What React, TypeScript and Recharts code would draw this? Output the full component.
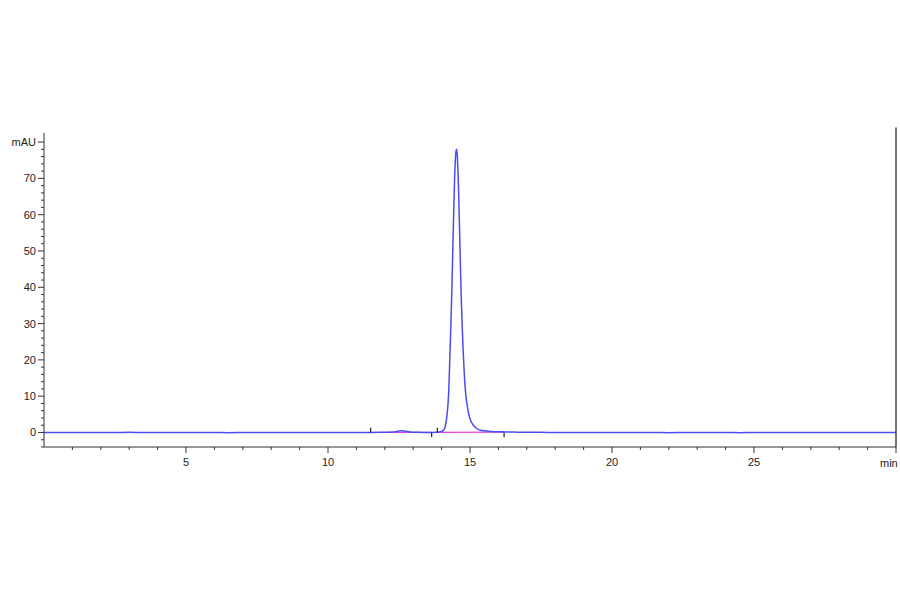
import React from "react";
import { LineChart, Line, XAxis, YAxis, ReferenceLine } from "recharts";

const times = [
  0, 0.5, 1, 1.5, 2, 2.5, 3, 3.5, 4, 4.5, 5, 5.5, 6, 6.5, 7, 7.5, 8, 8.5, 9, 9.5, 10, 10.5, 11, 11.5,
  12, 12.3, 12.5, 12.6, 12.7, 12.9, 13.2, 13.5, 13.8, 13.9, 14.0, 14.05, 14.1, 14.15, 14.2, 14.25,
  14.3, 14.35, 14.4, 14.45, 14.5, 14.53, 14.55, 14.6, 14.65, 14.7, 14.75, 14.8, 14.85, 14.9, 14.95,
  15.0, 15.1, 15.2, 15.3, 15.5, 15.75, 16.0, 16.5, 17, 17.5, 18, 18.5, 19, 19.5, 20, 20.5, 21, 21.5,
  22, 22.5, 23, 23.5, 24, 24.5, 25, 25.5, 26, 26.5, 27, 27.5, 28, 28.5, 29, 29.5, 30,
];
const signal = [
  0.0, 0.02, 0.0, -0.02, 0.02, 0.0, 0.04, 0.0, -0.02, 0.02, 0.0, -0.02, 0.02, -0.04, 0.0, 0.02, -0.02, 0.0, 0.02, -0.02, 0.0, 0.02, -0.02, 0.0,
  0.05, 0.1, 0.4, 0.5, 0.4, 0.15, 0.05, 0.0, 0.05, 0.1, 0.3, 0.5, 1.0, 2.5, 5.5, 11,
  23, 36, 52, 68, 77, 78, 76.5, 66, 50, 35, 24, 16, 10.5, 7.5, 5.3,
  3.8, 2.2, 1.3, 0.8, 0.45, 0.3, 0.2, 0.12, 0.05, 0.03, 0.0, 0.02, -0.02, 0.0, 0.02, -0.02, 0.0, 0.02,
  -0.04, 0.0, 0.02, -0.02, 0.0, -0.04, 0.02, -0.02, 0.0, 0.02, -0.02, 0.0, -0.02, 0.02, 0.0, -0.02, 0.0,
];

const baseline1 = [
  { t: 11.5, v: 0.0 },
  { t: 13.65, v: 0.05 },
];
const baseline2 = [
  { t: 13.85, v: 0.05 },
  { t: 16.2, v: 0.1 },
];
// integration event markers
const markerTimes = [11.5, 13.65, 13.85, 16.2];
const markerUp = [true, false, true, false];

const xTicks = Array.from({ length: 31 }, (_, i) => i);
const xLabels = [5, 10, 15, 20, 25];
const yTicks = Array.from({ length: 43 }, (_, i) => -4 + i * 2);
const yLabels = [0, 10, 20, 30, 40, 50, 60, 70];

const data = times.map((t, i) => ({ t, v: signal[i] }));

const AXIS = "#333333";
const FONT = "'Liberation Sans', Arial, sans-serif";

const XTick = (props: any) => {
  const { x, y, payload } = props;
  const val = payload.value;
  if (val === 0) return null;
  const major = val % 5 === 0;
  return (
    <g>
      <line x1={x} x2={x} y1={y} y2={y + (major ? 6 : 3)} stroke={AXIS} strokeWidth={1} />
      {major && xLabels.includes(val) && (
        <text x={x} y={y + 19} textAnchor="middle" fontSize={11} fill="#222" fontFamily={FONT}>
          {val}
        </text>
      )}
      {val === 30 && (
        <text x={x - 16} y={y + 20} textAnchor="start" fontSize={11} fill="#222" fontFamily={FONT}>
          min
        </text>
      )}
    </g>
  );
};

const YTick = (props: any) => {
  const { x, y, payload } = props;
  const val = payload.value;
  const major = val % 10 === 0;
  let label: string | null = null;
  if (yLabels.includes(val)) label = String(val);
  if (val === 80) label = "mAU";
  return (
    <g>
      <line x1={x} x2={x - (major ? 6 : 3)} y1={y} y2={y} stroke={AXIS} strokeWidth={1} />
      {label && (
        <text x={x - 8} y={y + 4} textAnchor="end" fontSize={11} fill="#222" fontFamily={FONT}>
          {label}
        </text>
      )}
    </g>
  );
};

export default function App() {
  return (
    <div style={{ position: "absolute", left: 0, top: 0, width: 900, height: 594, background: "#fff" }}>
      <LineChart
        width={900}
        height={594}
        data={data}
        margin={{ top: 133, right: 4, left: 0, bottom: 117 }}
      >
        <XAxis
          dataKey="t"
          type="number"
          domain={[0, 30]}
          ticks={xTicks}
          interval={0}
          tickLine={false}
          tickSize={0}
          tickMargin={0}
          tick={<XTick />}
          stroke={AXIS}
          height={30}
          allowDataOverflow
        />
        <YAxis
          type="number"
          domain={[-4, 82.5]}
          ticks={yTicks}
          interval={0}
          tickLine={false}
          tickSize={0}
          tickMargin={0}
          tick={<YTick />}
          stroke={AXIS}
          width={44}
          allowDataOverflow
        />
        <Line
          data={baseline1}
          dataKey="v"
          type="linear"
          stroke="#e23fe2"
          strokeWidth={1.2}
          dot={false}
          isAnimationActive={false}
        />
        <Line
          data={baseline2}
          dataKey="v"
          type="linear"
          stroke="#e23fe2"
          strokeWidth={1.2}
          dot={false}
          isAnimationActive={false}
        />
        <Line
          dataKey="v"
          type="monotone"
          stroke="#4c4cf2"
          strokeWidth={1.5}
          dot={false}
          isAnimationActive={false}
        />
        <ReferenceLine
          segment={[
            { x: 30, y: -4 },
            { x: 30, y: 84 },
          ]}
          stroke="#444"
          strokeWidth={1.5}
          ifOverflow="visible"
        />
        {markerTimes.map((mt, i) => (
          <ReferenceLine
            key={i}
            segment={[
              { x: mt, y: 0 },
              { x: mt, y: markerUp[i] ? 1.3 : -1.3 },
            ]}
            stroke="#222"
            strokeWidth={1.2}
          />
        ))}
      </LineChart>
    </div>
  );
}
